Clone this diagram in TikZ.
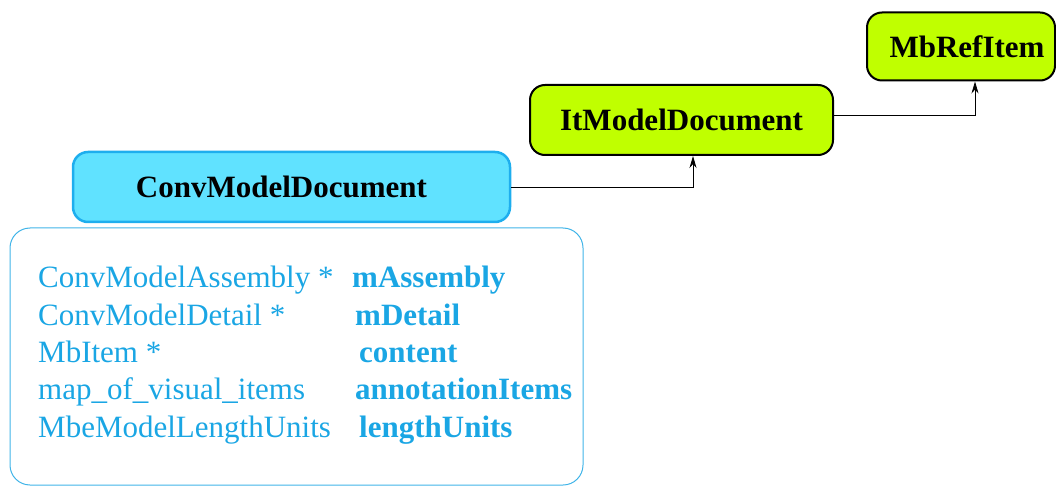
\documentclass[tikz,border=0pt]{standalone}
\usepackage{fontspec}
\setmainfont{Liberation Serif}
\usetikzlibrary{arrows.meta}
\definecolor{cyanfill}{HTML}{60E2FF}
\definecolor{cyanline}{HTML}{1EAEEE}
\definecolor{limefill}{HTML}{C0FF00}
\definecolor{txtblue}{HTML}{1AA6E4}
\definecolor{boxline}{HTML}{40B4E8}
\tikzset{
  classbox/.style={rounded corners=15pt, line width=2pt, inner sep=0pt, font=\fontsize{31}{37}\selectfont\bfseries},
  convbox/.style={classbox, draw=cyanline, fill=cyanfill, line width=2.5pt},
  itbox/.style={classbox, draw=black, fill=limefill},
  attrbox/.style={draw=boxline, rounded corners=20pt, line width=1pt, inner sep=0pt},
  ltxt/.style={anchor=base west, inner sep=0pt, text=txtblue, font=\fontsize{31}{37}\selectfont},
  rtxt/.style={anchor=base west, inner sep=0pt, text=txtblue, font=\fontsize{31}{37}\selectfont\bfseries},
  conn/.style={line width=0.8pt, -{Stealth[length=12pt,width=7pt]}}
}
\begin{document}
\begin{tikzpicture}[x=1pt,y=-1pt]
\useasboundingbox (0,0) rectangle (1056,486);
\node[attrbox, minimum width=573pt, minimum height=257pt] (attrs) at (296.5,356.5) {};
\node[convbox, minimum width=437pt, minimum height=70pt] (conv) at (291.5,187) {ConvModelDocument\kern20pt};
\node[itbox, minimum width=303pt, minimum height=70pt] (itm) at (681.5,120) {ItModelDocument};
\node[itbox, minimum width=188pt, minimum height=68pt] (mbr) at (961,46.5) {\kern12pt MbRefItem};
\draw[conn] (conv.east) -| ([xshift=11.5pt]itm.south);
\draw[conn] ([yshift=5pt]itm.east) -| ([xshift=14pt]mbr.south);
\node[ltxt] (l1) at (38,287) {ConvModelAssembly *};
\node[ltxt] (l2) at (38,325) {ConvModelDetail *};
\node[ltxt] (l3) at (38,362) {MbItem *};
\node[ltxt] (l4) at (38,399) {map\_of\_visual\_items};
\node[ltxt] (l5) at (38,437) {MbeModelLengthUnits};
\node[rtxt] (r1) at (352,287) {mAssembly};
\node[rtxt] (r2) at (355,325) {mDetail};
\node[rtxt] (r3) at (359,362) {content};
\node[rtxt] (r4) at (355,399) {annotationItems};
\node[rtxt] (r5) at (359,437) {lengthUnits};
\end{tikzpicture}
\end{document}
